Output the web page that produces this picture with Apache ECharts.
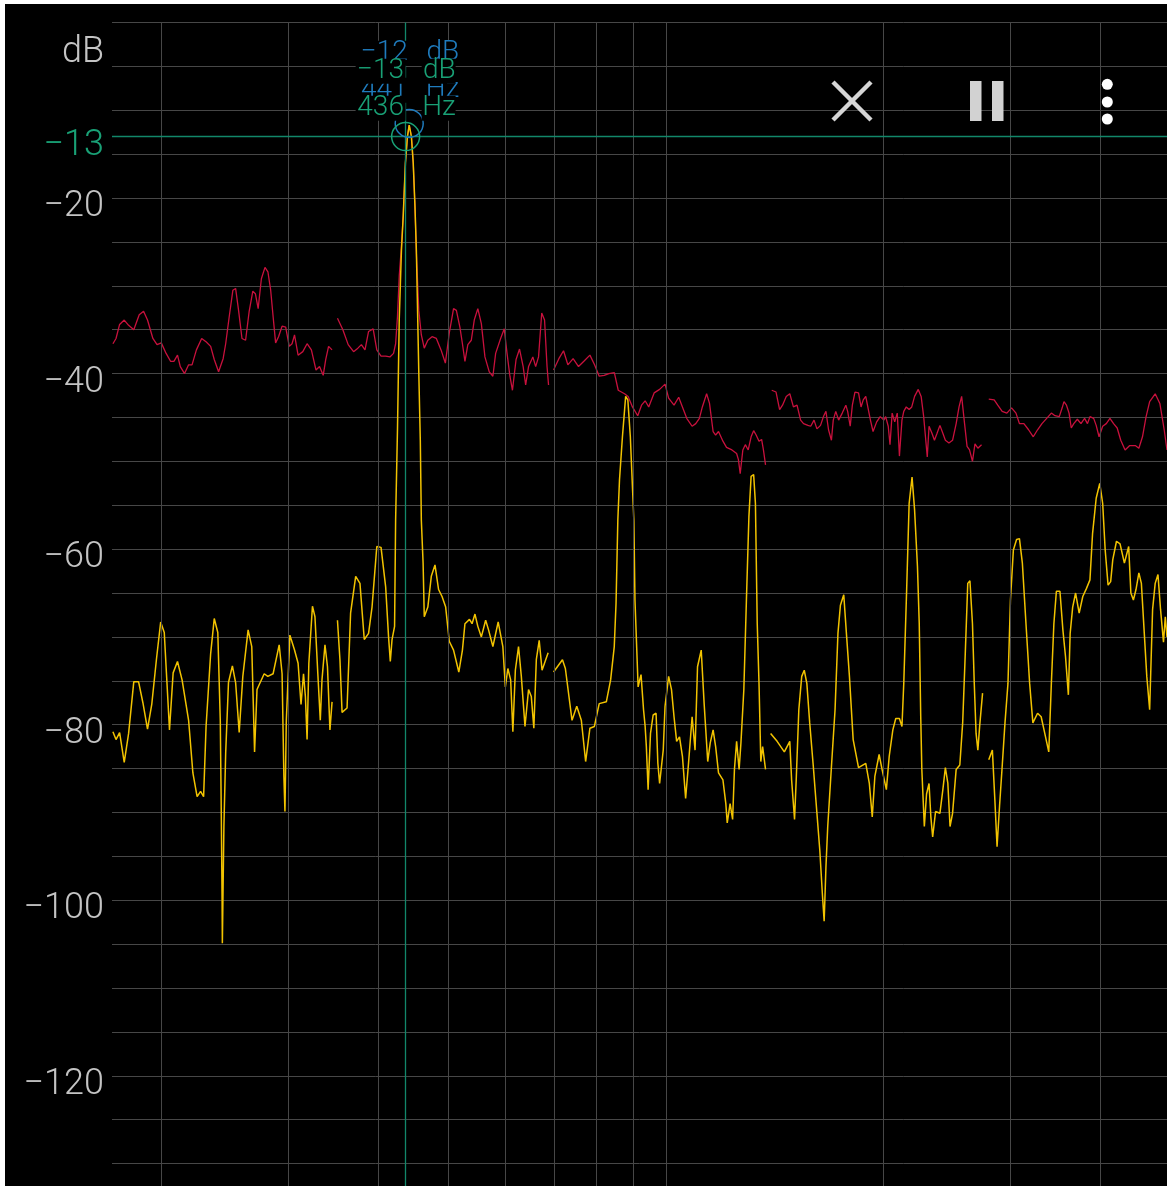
<!DOCTYPE html>
<html>
<head>
<meta charset="utf-8">
<title>Spectrum</title>
<script src="https://cdn.jsdelivr.net/npm/echarts@6/dist/echarts.min.js"></script>
<style>
  html, body { margin: 0; padding: 0; background: #fff; overflow: hidden; }
  #chart { position: absolute; left: 5px; top: 4px; width: 1162px; height: 1250px; background: #000; }
</style>
</head>
<body>
<div id="chart"></div>
<script>
// live spectrum (yellow), [Hz, dB]; null = gap between octave segments
const liveSpectrum = [
  [171.4,-80.8],[173.1,-81.7],[175.1,-80.9],[177.7,-84.3],[180.2,-81],[183.2,-75.1],[186.0,-75.1],[188.6,-77.5],[191.4,-80.5],[194.0,-77.7],
  [196.9,-72.6],[199.6,-68.3],[201.9,-69.5],[203.3,-74.1],[205.3,-80.6],[207.7,-74.1],[210.6,-72.8],[213.7,-74.9],[218.2,-79.5],[221.2,-85.5],
  [224.2,-88.2],[226.7,-87.6],[228.9,-88.2],[230.7,-80.2],[234.1,-71.9],[236.8,-67.9],[239.5,-69.5],[241.4,-79.5],[242.2,-90.5],[242.8,-100],
  [243.0,-104.9],[244.2,-91.6],[245.6,-83.2],[247.8,-75.2],[250.9,-73.3],[253.5,-75.2],[256.4,-80.9],[259.4,-74.5],[263.8,-69.2],[266.9,-71.1],
  [269.3,-83.1],[271.4,-76],[277.7,-74.2],[280.9,-74.5],[285.7,-74.2],[291.3,-70.9],[294.0,-74.2],[295.7,-85.9],[296.7,-89.9],[298.0,-79.5],
  [301.4,-69.8],[305.9,-71.5],[309.4,-73],[312.3,-77.7],[314.8,-74.2],[316.7,-76.8],[318.4,-81.7],[320.2,-73],[323.9,-66.5],[326.5,-67.7],
  [329.5,-74.2],[332.1,-79.5],[333.9,-74.9],[337.1,-70.9],[339.8,-73.4],[342.5,-80.6],[344.8,-77.4],[347.5,null],
  [350.8,-68.1],[353.6,-72.6],[356.0,-78.6],[361.7,-78.1],[365.8,-67.3],[371.8,-63.1],[376.9,-63.9],[382.1,-70.3],[387.4,-69.6],[391.7,-66.6],
  [397.7,-59.7],[403.1,-59.8],[409.1,-64.3],[412.9,-70],[415.2,-72.8],[417.5,-70.3],[420.9,-68.8],[422.3,-56.7],[424.8,-46.4],[427.2,-33.9],
  [430.2,-26],[432.7,-22],[435.7,-16],[438.5,-13],[441.0,-11.7],[444.1,-13],[446.7,-16],[449.2,-21],[451.2,-26],[454.7,-39.9],
  [456.9,-47.6],[458.4,-56.7],[461.0,-61.6],[462.7,-67.7],[468.0,-66.6],[473.2,-63.1],[478.8,-61.8],[484.3,-64.6],[489.7,-65.4],[495.4,-66.6],
  [501.1,-70.5],[508.0,-71.5],[516.6,-74],[522.6,-71.5],[526.8,-68.5],[534.5,-68],[538.9,-68.5],[543.9,-67.4],[548.9,-68.8],[555.1,-70],
  [562.8,-68.1],[568.0,-69.2],[575.9,-71.1],[585.7,-68.3],[594.5,-71.1],[599.3,-75.7],[604.1,-73.6],[609.5,-74.9],[613.8,-80.8],[618.7,-73.8],
  [625.0,-71.1],[630.6,-74.5],[638.0,-80.2],[645.3,-76],[651.0,-76.8],[656.3,-80.4],[661.5,-72.6],[667.6,-70.4],[673.7,-73.8],[686.9,-71.8],
  [693,null],
  [698.9,-74],[719.0,-72.6],[725.7,-73.6],[741.3,-79.5],[752.6,-77.9],[763.6,-79.5],[774.2,-84.2],[784.8,-80.4],[796.1,-80.2],[808.4,-77.6],
  [827.0,-77.4],[838.4,-74.9],[848.2,-71.1],[853.0,-66.2],[857.9,-56.7],[862.5,-52.1],[870.6,-47.2],[879.6,-42.6],[885.7,-43],[892.8,-47.2],
  [900.0,-54],[902.9,-56.7],[906.1,-65.8],[915.3,-75.7],[919.9,-74.9],[923.8,-74.3],[931.2,-78.3],[936.0,-80.2],[939.6,-82.5],[944.9,-87.4],
  [952.1,-81],[960.2,-78.9],[969.2,-78.7],[974.7,-84.4],[980.2,-86.7],[991.6,-82.9],[997.3,-77.9],[1008.8,-74.5],[1018.1,-76],[1026.3,-79.1],
  [1034.9,-81.9],[1044.4,-81.4],[1054.2,-83.6],[1065.0,-88.4],[1074.9,-84.4],[1087.3,-79.1],[1097.5,-82.9],[1106.2,-73.4],[1119.3,-71.5],[1129.8,-77.6],
  [1142.8,-84.2],[1151.8,-82.1],[1162.6,-80.6],[1172.0,-82.5],[1182.8,-85.5],[1199.6,-86.3],[1210.7,-89],[1216.1,-91.2],[1227.3,-89],[1237.2,-90.8],
  [1244.4,-85.1],[1253.1,-81.9],[1263.1,-85.1],[1270.4,-82.1],[1282.3,-76],[1292.9,-65.8],[1303.2,-56.3],[1312.4,-51.7],[1323.0,-51.5],[1330.6,-54.8],
  [1338.3,-68.5],[1345.9,-75.3],[1353.6,-84.2],[1361.5,-82.5],[1374.2,-85.1],[1386,null],
  [1396.6,-81],[1425.9,-81.9],[1459.1,-83.1],[1484.7,-81.9],[1493.4,-86.3],[1507.4,-90.8],[1516.1,-85.9],[1528.1,-78.3],[1542.3,-74.5],[1554.8,-73.8],
  [1567.7,-75.3],[1582.1,-79.8],[1600.5,-84.8],[1619.0,-90.1],[1633.9,-94.3],[1647.1,-99.2],[1656.7,-102.4],[1666.2,-96.2],[1675.7,-91.6],[1695.6,-84.8],
  [1715.3,-78.3],[1731.2,-69.6],[1744.9,-66.4],[1763.6,-65.2],[1780.0,-70],[1795.8,-74.5],[1817.3,-81.7],[1848.7,-84.9],[1891.8,-84.4],[1913.5,-86.7],
  [1931.4,-90.5],[1947.5,-85.9],[1974.2,-83.4],[1992.7,-85.1],[2020.3,-87.4],[2038.8,-83.6],[2062.5,-80.6],[2081.8,-79.3],[2106.3,-79.3],[2123.3,-80.2],
  [2135.6,-75.3],[2155.4,-64.6],[2172.5,-54.8],[2192.8,-51.8],[2210.5,-55.5],[2231.0,-62],[2243.7,-68.5],[2254.4,-79.1],[2262.3,-85.1],[2280.4,-91.6],
  [2296.6,-87.9],[2314.9,-86.7],[2328.3,-90.5],[2341.8,-92.8],[2363.6,-89.9],[2396.7,-90.1],[2419.2,-87.4],[2438.7,-84.9],[2458.1,-86.7],[2475.2,-91.6],
  [2495.3,-90.1],[2524.1,-85.1],[2553.8,-84.6],[2577.0,-79.8],[2598.5,-71.9],[2619.2,-63.9],[2637.4,-63.6],[2658.8,-68.5],[2674.2,-75.3],[2689.6,-81],
  [2705.0,-82.9],[2720.4,-80.2],[2745.9,-76.4],[2772,null],
  [2800.6,-84],[2833.1,-82.9],[2855.8,-88.6],[2875.8,-93.9],[2898.6,-89.3],[2923.0,-84.8],[2949.4,-79.8],[2977.6,-75.3],[3001.3,-65.8],[3029.4,-60.1],
  [3060.5,-58.9],[3088.6,-58.8],[3117.6,-61.6],[3153.7,-68.5],[3190.8,-75.3],[3223.8,-79.8],[3272.5,-78.7],[3310.1,-79.1],[3348.6,-81],[3391.4,-83.1],
  [3419.6,-75.3],[3447.2,-68.5],[3474.8,-64.8],[3514.5,-64.8],[3547.6,-69.2],[3577.2,-72.2],[3610.3,-76.6],[3630.9,-69.6],[3660.3,-66.6],[3694.4,-65],
  [3736.7,-67.3],[3780.1,-65.4],[3823.8,-64.5],[3867.5,-63.5],[3900.1,-58.2],[3945.2,-54.2],[3990.4,-52.5],[4027.8,-54.8],[4060.2,-60.1],[4097.7,-64.1],
  [4131.7,-63.7],[4159.7,-61.2],[4209.1,-59.1],[4257.3,-59.4],[4316.6,-61.6],[4341.5,-61.8],[4376.0,-59.7],[4406.7,-65],[4442.3,-65.8],[4479.3,-64.6],
  [4520.6,-62.7],[4556.9,-63.9],[4599.5,-69.6],[4636.3,-74.5],[4678.9,-78.3],[4722.8,-66.9],[4762.2,-63.9],[4804.7,-62.9],[4844.5,-66.9],[4890.0,-70.6],
  [4918.2,-67.7],[4944.9,-70]
];

// peak hold (red), [Hz, dB]
const peakHold = [
  [171.4,-36.6],[173.1,-36],[175.1,-34.4],[177.7,-33.9],[180.2,-34.5],[183.2,-35],[186.4,-33.3],[189.0,-32.9],[191.4,-33.9],[194.7,-36],
  [197.3,-36.7],[200.0,-36.5],[203.1,-37.7],[206.0,-38.6],[208.2,-38.6],[210.6,-37.9],[212.5,-39.2],[215.4,-40],[218.2,-39],[220.6,-39],
  [223.7,-37.3],[227.5,-36],[230.9,-36.4],[234.1,-36.9],[236.8,-38.4],[240.1,-39.8],[243.6,-38.3],[245.6,-36.6],[248.4,-33.5],[251.3,-30.5],
  [253.5,-30.3],[255.9,-32.8],[258.7,-36],[261.7,-36.2],[264.7,-32.9],[267.8,-30.6],[270.0,-30.9],[272.4,-32.6],[275.2,-29.2],[278.4,-27.9],
  [281.0,-28.4],[283.5,-30.5],[285.7,-33.5],[288.0,-36.5],[290.7,-35.8],[294.0,-34.6],[297.4,-34.7],[300.8,-36.9],[303.5,-36.6],[305.9,-35.6],
  [309.4,-37.9],[314.1,-37.5],[318.4,-36.6],[322.8,-37.3],[327.6,-39.6],[331.3,-39.2],[335.2,-40.2],[337.9,-38.4],[341.0,-36.9],[344.8,-37.3],
  [347.5,null],
  [350.8,-33.7],[356.9,-35],[363.0,-36.7],[369.3,-37.5],[374.4,-37.1],[378.6,-36.7],[383.0,-37.3],[387.4,-35.2],[393.1,-34.9],[397.7,-37.3],
  [403.1,-38],[409.1,-38],[414.7,-38.1],[419.5,-37.7],[422.3,-36.6],[424.8,-33.5],[427.2,-28.9],[430.2,-25.5],[432.7,-22],[435.7,-16],
  [438.5,-13],[441.0,-11.7],[444.1,-13],[446.7,-16],[449.2,-21],[451.2,-26.3],[454.7,-32.8],[458.4,-35.6],[462.7,-37.1],[468.0,-36.2],
  [474.3,-35.8],[480.9,-36],[488.1,-37.3],[494.9,-38.8],[501.1,-35.4],[508.0,-32.6],[512.6,-32.8],[518.4,-34.7],[522.6,-36.6],[526.8,-38.6],
  [531.7,-36.7],[537.6,-36.2],[542.7,-33.9],[548.9,-32.6],[555.1,-34.3],[561.5,-38.1],[569.3,-39.8],[575.9,-40.3],[581.0,-37.7],[590.3,-36],
  [597.2,-34.9],[602.5,-37.7],[608.1,-40.3],[613.0,-41.9],[620.1,-38.4],[627.0,-37.2],[634.3,-39.2],[639.4,-41.3],[645.3,-39.2],[654.2,-38.1],
  [660.1,-39.2],[666.2,-38.1],[673.0,-33.1],[679.1,-33.9],[684.5,-39.2],[687.8,-41.3],[693,null],
  [698.9,-39.6],[710.8,-38.3],[721.5,-37.4],[731.5,-39],[743.9,-38.3],[756.8,-39.2],[769.8,-38.6],[784.8,-37.9],[796.5,-39],[808.4,-40.3],
  [821.5,-40.2],[833.6,-40],[848.4,-39.9],[859.0,-41.9],[876.5,-42.3],[886.6,-42.6],[898.8,-43.8],[914.1,-44.8],[925.3,-43.6],[936.0,-43.1],
  [946.7,-43.8],[963.2,-42.2],[980.2,-41.8],[997.3,-41.2],[1008.8,-42.8],[1026.3,-43.6],[1041.8,-42.7],[1054.2,-43.8],[1068.8,-45.1],[1087.3,-46],
  [1099.9,-45.7],[1112.8,-45.1],[1123.3,-43.8],[1138.8,-42.3],[1149.3,-43.4],[1162.6,-46.6],[1172.0,-47],[1182.8,-46.6],[1199.6,-47.7],[1213.4,-48.4],
  [1234.5,-48.7],[1253.1,-49.1],[1260.3,-49.8],[1267.5,-51.4],[1278.2,-48.7],[1288.4,-48.1],[1300.3,-48.7],[1312.4,-47.2],[1323.0,-46.5],[1333.6,-47],
  [1345.9,-47.7],[1357.1,-47.5],[1365.0,-48.7],[1374.2,-50.4],[1386,null],
  [1401.5,-41.9],[1421.0,-42.1],[1437.3,-44.1],[1450.7,-43.6],[1468.0,-42.6],[1484.7,-42.3],[1502.1,-43.8],[1519.4,-43.6],[1536.9,-45.3],[1551.3,-45.7],
  [1573.2,-45.9],[1587.2,-46],[1604.1,-45.3],[1619.0,-46.3],[1637.6,-45.9],[1653.0,-44.9],[1666.2,-44.3],[1680.0,-46.4],[1695.6,-47.6],[1705.5,-45.3],
  [1719.2,-44.3],[1735.0,-45.3],[1755.1,-44.5],[1775.4,-43.6],[1785.6,-44.3],[1800.3,-46],[1812.6,-43.6],[1827.8,-42.1],[1848.7,-42.2],[1863.5,-43.8],
  [1876.8,-43],[1891.8,-42.6],[1907.5,-44.1],[1920.2,-45.3],[1936.4,-46.6],[1958.8,-45.5],[1981.1,-44.9],[2004.2,-45.3],[2015.7,-44.9],[2032.4,-46],
  [2043.9,-48.1],[2057.9,-44.5],[2075.1,-45.5],[2091.7,-44.5],[2106.3,-49.4],[2123.3,-45.3],[2135.6,-44.3],[2152.7,-43.8],[2172.5,-44.1],[2190.7,-43.8],
  [2210.5,-42.6],[2236.6,-41.8],[2257.3,-42.6],[2275.6,-44.9],[2288.7,-47.2],[2301.8,-49.5],[2315.0,-46],[2336.5,-46.8],[2355.3,-47.6],[2374.9,-46.8],
  [2396.7,-45.9],[2419.2,-46.8],[2438.7,-47.6],[2466.6,-47.9],[2495.3,-47.6],[2524.1,-45.7],[2547.4,-43.8],[2568.7,-42.6],[2592.7,-45.7],[2613.4,-48.3],
  [2634.1,-48.7],[2658.8,-50],[2680.2,-48],[2705.0,-48.5],[2737.0,-48.1],[2772,null],
  [2800.6,-42.9],[2849.4,-43],[2882.2,-43.6],[2923.0,-44.3],[2967.2,-44.5],[3011.9,-43.9],[3054.7,-44.5],[3088.6,-45.7],[3132.6,-45.7],[3179.8,-46.4],
  [3228.0,-47.2],[3272.5,-46.4],[3318.7,-45.7],[3368.9,-45.1],[3419.6,-44.5],[3459.4,-44.8],[3506.8,-44.9],[3539.6,-43.9],[3560.1,-43.2],[3588.6,-43.6],
  [3618.2,-44.5],[3643.8,-46.2],[3673.2,-45.7],[3715.4,-45.2],[3758.2,-45.7],[3801.9,-45.1],[3837.2,-45.7],[3867.5,-44.9],[3913.9,-45.1],[3945.2,-45.9],
  [3981.6,-47.2],[4027.8,-46],[4074.4,-45.7],[4122.3,-45.1],[4170.4,-45.7],[4218.5,-46.2],[4266.9,-47.6],[4326.3,-48.7],[4391.1,-48.2],[4469.4,-48.2],
  [4520.6,-48.5],[4573.1,-47.2],[4626.0,-44.9],[4678.9,-43.2],[4762.2,-42.3],[4833.6,-43.4],[4900.9,-46.4],[4944.9,-48.7]
];

// frequency grid lines (Hz)
const freqGrid = [200, 300, 400, 500, 600, 700, 800, 900, 1000, 2000, 3000, 4000];
const freqRange = [170.9, 4945];
const dbRange = [-140, 0];

// cursor and peak readouts
const cursor = { freq: 436, db: -13 };
const peak = { freq: 441, db: -11.5, label: -12 };

const GREEN = '#19a176';
const BLUE = '#1f7bbd';
const GRAY = '#c4c4c4';
const FONT = 'Roboto, "Noto Sans", sans-serif';

function minus(v) {
  return v < 0 ? '\u2212' + (-v) : String(v);
}

function readout(color, db, freq, distance) {
  let txt = { color: color, fontSize: 28, fontWeight: 300, fontFamily: FONT, lineHeight: 37, height: 25, backgroundColor: '#000' };
  return {
    show: true,
    position: 'top',
    distance: distance,
    lineHeight: 37,
    formatter: '{v|' + minus(db) + '}{s|}{u|dB}\n{v|' + freq + '}{s|}{u|Hz}',
    rich: {
      v: Object.assign({ width: 50, align: 'right' }, txt),
      s: { width: 16, lineHeight: 37 },
      u: Object.assign({ width: 34, align: 'right' }, txt)
    }
  };
}

// dB tick label style, text sits a little under its grid line
const tickLabel = {
  fontSize: 36, fontWeight: 300, fontFamily: FONT,
  margin: 8, verticalAlign: 'top', lineHeight: 18
};

const myChart = echarts.init(document.getElementById('chart'));
myChart.setOption({
  backgroundColor: '#000',
  animation: false,
  grid: { left: 107, right: 0, top: 18.5, bottom: 2.7, containLabel: false, outerBoundsMode: 'none' },
  xAxis: {
    type: 'log',
    min: freqRange[0],
    max: freqRange[1],
    axisLine: { show: false },
    axisTick: { show: false },
    axisLabel: { show: false },
    splitLine: { show: false }
  },
  yAxis: [
    {
      type: 'value',
      min: dbRange[0],
      max: dbRange[1],
      interval: 5,
      name: 'dB',
      nameLocation: 'end',
      nameGap: -30,
      nameTextStyle: {
        color: GRAY, fontSize: 36, fontWeight: 300, fontFamily: FONT,
        align: 'right', verticalAlign: 'middle', padding: [0, 8, 0, 0]
      },
      axisLine: { show: false },
      axisTick: { show: false },
      axisLabel: Object.assign({
        color: GRAY,
        formatter: (v) => (v < 0 && v % 20 === 0 ? minus(v) : '')
      }, tickLabel),
      splitLine: { lineStyle: { color: '#474747', width: 1 } }
    },
    {
      // cursor level readout on the dB scale
      type: 'value',
      position: 'left',
      min: dbRange[0],
      max: dbRange[1],
      axisLine: { show: false },
      axisTick: { show: false },
      splitLine: { show: false },
      axisLabel: Object.assign({
        customValues: [cursor.db],
        color: GREEN,
        formatter: (v) => minus(v)
      }, tickLabel)
    }
  ],
  graphic: [
    // close / pause / menu icons of the app bar
    { type: 'line', shape: { x1: 828, y1: 78, x2: 866, y2: 116 }, style: { stroke: '#d6d6d6', lineWidth: 4.5 }, z: 100 },
    { type: 'line', shape: { x1: 866, y1: 78, x2: 828, y2: 116 }, style: { stroke: '#d6d6d6', lineWidth: 4.5 }, z: 100 },
    { type: 'rect', shape: { x: 965, y: 77, width: 11.5, height: 40 }, style: { fill: '#d2d2d2' }, z: 100 },
    { type: 'rect', shape: { x: 987, y: 77, width: 11.5, height: 40 }, style: { fill: '#d2d2d2' }, z: 100 },
    { type: 'circle', shape: { cx: 1102.3, cy: 80.3, r: 5.5 }, style: { fill: '#fff' }, z: 100 },
    { type: 'circle', shape: { cx: 1102.3, cy: 98, r: 5.5 }, style: { fill: '#fff' }, z: 100 },
    { type: 'circle', shape: { cx: 1102.3, cy: 115, r: 5.5 }, style: { fill: '#fff' }, z: 100 }
  ],
  series: [
    {
      name: 'grid',
      type: 'line',
      data: [],
      z: 1,
      silent: true,
      markLine: {
        silent: true,
        symbol: ['none', 'none'],
        label: { show: false },
        lineStyle: { color: '#474747', width: 1, type: 'solid' },
        data: freqGrid.map((f) => ({ xAxis: f }))
      }
    },
    {
      name: 'cursor',
      type: 'line',
      data: [],
      z: 2,
      silent: true,
      markLine: {
        silent: true,
        symbol: ['none', 'none'],
        label: { show: false },
        lineStyle: { color: '#12876a', width: 1.3, type: 'solid' },
        data: [{ yAxis: cursor.db }, { xAxis: cursor.freq }]
      }
    },
    {
      name: 'peak hold',
      type: 'line',
      data: peakHold,
      z: 3,
      showSymbol: false,
      connectNulls: false,
      lineStyle: { color: '#c8113d', width: 1.3 }
    },
    {
      name: 'spectrum',
      type: 'line',
      data: liveSpectrum,
      z: 4,
      showSymbol: false,
      connectNulls: false,
      lineStyle: { color: '#f2c300', width: 1.5 }
    },
    {
      name: 'peak marker',
      type: 'line',
      data: [],
      z: 5,
      markPoint: {
        symbol: 'circle',
        symbolSize: 28,
        itemStyle: { color: 'rgba(0,0,0,0)', borderColor: BLUE, borderWidth: 1.5 },
        label: readout(BLUE, peak.label, peak.freq, 0),
        data: [{ coord: [peak.freq, peak.db] }]
      }
    },
    {
      name: 'cursor marker',
      type: 'line',
      data: [],
      z: 6,
      markPoint: {
        symbol: 'circle',
        symbolSize: 28,
        itemStyle: { color: 'rgba(0,0,0,0)', borderColor: GREEN, borderWidth: 1.5 },
        label: readout(GREEN, cursor.db, cursor.freq, -5),
        data: [{ coord: [cursor.freq, cursor.db] }]
      }
    }
  ]
});
</script>
</body>
</html>
